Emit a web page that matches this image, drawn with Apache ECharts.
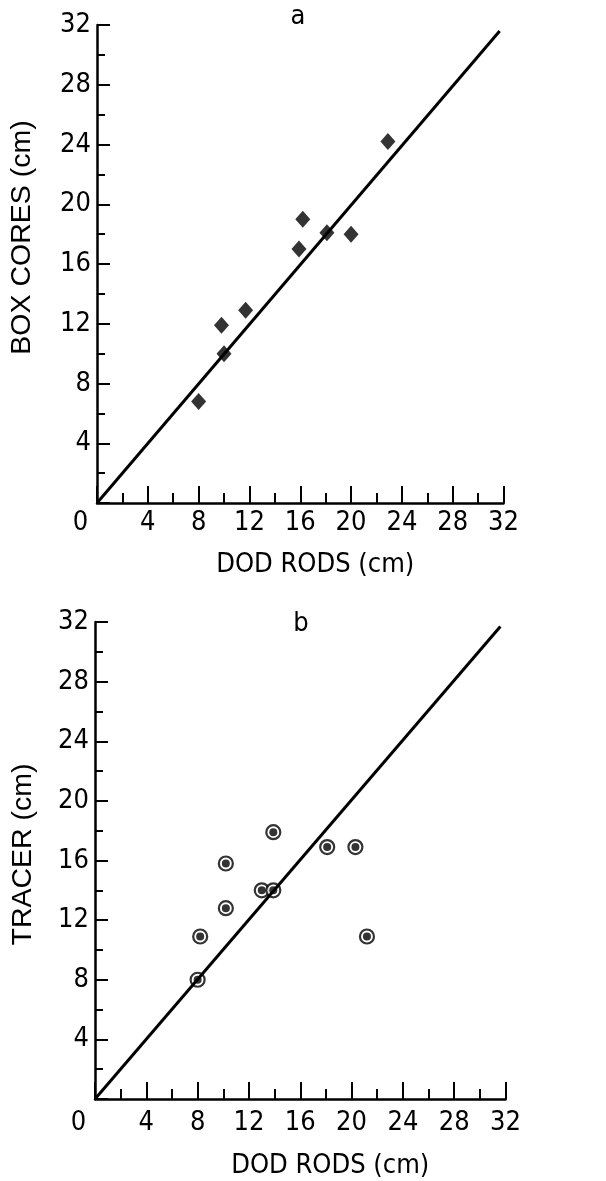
<!DOCTYPE html>
<html>
<head>
<meta charset="utf-8">
<script src="https://cdn.jsdelivr.net/npm/echarts@6/dist/echarts.min.js"></script>
<style>
  html, body { margin: 0; padding: 0; background: #fff; }
  #chart { width: 606px; height: 1181px; }
</style>
</head>
<body>
<div id="chart"></div>
<script>
// panel a: box cores vs dod rods
const boxX = [8, 9.8, 10, 11.7, 15.9, 16.2, 18.1, 20, 22.9];
const boxY = [6.8, 11.9, 10, 12.9, 17, 19, 18.1, 18, 24.2];
// panel b: tracer vs dod rods
const tracerX = [8, 8.2, 10.2, 10.2, 13, 13.9, 13.9, 18.1, 20.3, 21.2];
const tracerY = [8, 10.9, 12.8, 15.8, 14, 14, 17.9, 16.9, 16.9, 10.9];
// 1:1 lines
const lineA = [[0, 0], [31.7, 31.6]];
const lineB = [[0, 0], [31.6, 31.7]];

const axisMin = 0;
const axisMax = 32;
const tickStep = 4;

// scan is stretched vertically: condensed face for horizontal text, wider one for the rotated titles
const FONT = '"DejaVu Sans Condensed", "Liberation Sans", sans-serif';
const VFONT = '"Liberation Sans", Arial, sans-serif';
const FS = 27;
const black = '#000';

const pairs = (xs, ys) => xs.map((x, i) => [x, ys[i]]);

const makeX = (gridIndex, margin, nameGap, shift) => ({
  gridIndex,
  type: 'value',
  min: axisMin,
  max: axisMax,
  interval: tickStep,
  axisLine: { show: true, onZero: false, lineStyle: { color: black, width: 2.5 } },
  axisTick: { show: true, inside: true, length: 17, lineStyle: { color: black, width: 2 } },
  minorTick: { show: true, splitNumber: 2, length: 10, lineStyle: { color: black, width: 2 } },
  splitLine: { show: false },
  axisLabel: {
    margin,
    color: black,
    fontSize: FS,
    fontFamily: FONT,
    formatter: v => (v === 0 ? '{z|0}' : String(v)),
    rich: { z: { padding: [0, 33, 0, 0], fontSize: FS, fontFamily: FONT, color: black } }
  },
  name: 'DOD RODS (cm)',
  nameLocation: 'middle',
  nameGap,
  nameTextStyle: { fontSize: FS, fontFamily: FONT, color: black, padding: [0, 0, 0, shift] }
});

const makeY = (gridIndex, name, nameGap, shift) => ({
  gridIndex,
  type: 'value',
  min: axisMin,
  max: axisMax,
  interval: tickStep,
  axisLine: { show: true, onZero: false, lineStyle: { color: black, width: 2.5 } },
  axisTick: { show: true, inside: true, length: 13, lineStyle: { color: black, width: 2 } },
  minorTick: { show: true, splitNumber: 2, length: 8, lineStyle: { color: black, width: 2 } },
  splitLine: { show: false },
  axisLabel: {
    margin: 6,
    color: black,
    fontSize: FS,
    fontFamily: FONT,
    showMinLabel: false,
    formatter: v => (v === 0 ? '' : String(v))
  },
  name,
  nameLocation: 'middle',
  nameGap,
  nameTextStyle: { fontSize: 28.5, fontFamily: VFONT, color: black, padding: [0, 0, 0, shift] }
});

const chart = echarts.init(document.getElementById('chart'), null, { renderer: 'canvas' });

chart.setOption({
  backgroundColor: '#fff',
  animation: false,
  grid: [
    { left: 96.5, top: 25, width: 407, height: 478 },
    { left: 95, top: 622, width: 410.5, height: 477 }
  ],
  xAxis: [makeX(0, 6, 48, 30), makeX(1, 10, 53, 60)],
  yAxis: [makeY(0, 'BOX CORES (cm)', 60, 53), makeY(1, 'TRACER (cm)', 57, 12)],
  graphic: [
    { type: 'text', x: 298, y: 17, style: { text: 'a', font: FS + 'px ' + FONT, fill: black, align: 'center', verticalAlign: 'middle' } },
    { type: 'text', x: 301, y: 624, style: { text: 'b', font: FS + 'px ' + FONT, fill: black, align: 'center', verticalAlign: 'middle' } }
  ],
  series: [
    {
      type: 'scatter',
      xAxisIndex: 0,
      yAxisIndex: 0,
      data: pairs(boxX, boxY),
      symbol: 'diamond',
      symbolSize: [15, 17],
      itemStyle: { color: black }
    },
    {
      type: 'line',
      xAxisIndex: 0,
      yAxisIndex: 0,
      data: lineA,
      symbol: 'none',
      lineStyle: { color: black, width: 3 },
      z: 3
    },
    {
      type: 'scatter',
      xAxisIndex: 1,
      yAxisIndex: 1,
      data: pairs(tracerX, tracerY),
      symbol: 'circle',
      symbolSize: 14,
      itemStyle: { color: '#fff', borderColor: black, borderWidth: 2.2 }
    },
    {
      type: 'scatter',
      xAxisIndex: 1,
      yAxisIndex: 1,
      data: pairs(tracerX, tracerY),
      symbol: 'circle',
      symbolSize: 8,
      itemStyle: { color: black },
      z: 2
    },
    {
      type: 'line',
      xAxisIndex: 1,
      yAxisIndex: 1,
      data: lineB,
      symbol: 'none',
      lineStyle: { color: black, width: 3 },
      z: 3
    }
  ]
});
</script>
</body>
</html>
